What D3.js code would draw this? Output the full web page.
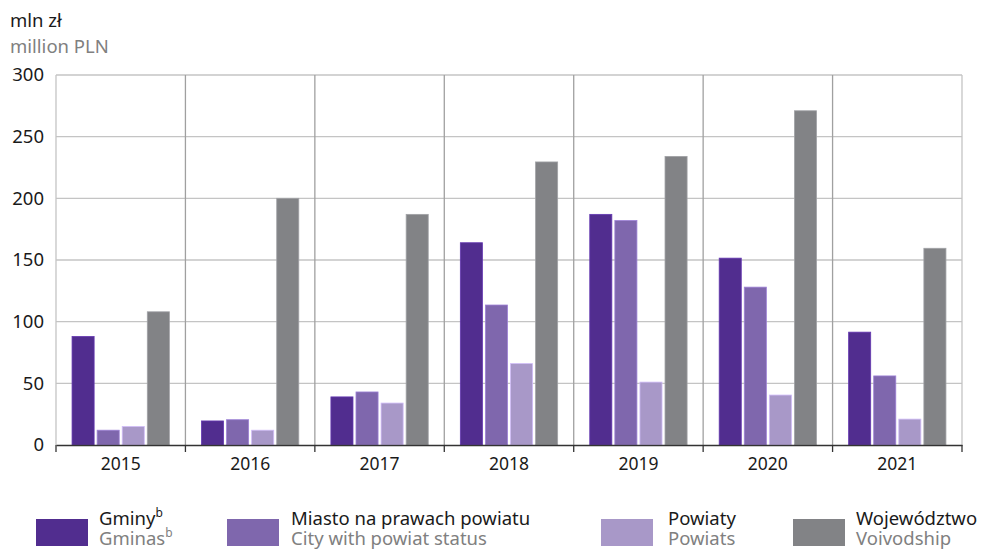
<!DOCTYPE html>
<html><head><meta charset="utf-8">
<script src="https://cdn.jsdelivr.net/npm/d3@7"></script>
<style>body{margin:0;background:#fff}svg{display:block;font-family:"Noto Sans",sans-serif}</style>
</head><body><svg id="c" width="989" height="550"></svg>
<script>
const years = ["2015","2016","2017","2018","2019","2020","2021"];
const seriesKeys = ["gminy","miasto","powiaty","woj"];
const gminy   = [88, 19.5, 39, 164, 187, 151.5, 91.5];
const miasto  = [12, 20.5, 43, 113.5, 182, 128, 56];
const powiaty = [15, 12, 34, 66, 51, 40.5, 21];
const woj     = [108, 200, 187, 229.5, 234, 271, 159.5];
const yTicks = [0,50,100,150,200,250,300];
const legendPL = ["Gminy","Miasto na prawach powiatu","Powiaty","Województwo"];
const legendEN = ["Gminas","City with powiat status","Powiats","Voivodship"];
const legendSup = ["b","","",""];
const colors = ["#512d8f","#7f67ad","#a898c8","#828386"];
const values = [gminy, miasto, powiaty, woj];

const svg = d3.select("#c");
const m = {l:56, r:962, t:75, b:445};
const x = d3.scaleBand().domain(years).range([m.l, m.r]).paddingInner(0).paddingOuter(0);
const xs = d3.scaleBand().domain(seriesKeys).range([0, x.bandwidth()]).paddingInner(0.12).paddingOuter(0.64);
const y = d3.scaleLinear().domain([0,300]).range([m.b, m.t]);

// horizontal gridlines
svg.append("g").selectAll("line").data(yTicks.filter(d=>d>0)).join("line")
  .attr("x1", m.l).attr("x2", m.r).attr("y1", d=>y(d)).attr("y2", d=>y(d))
  .attr("stroke","#c4c4c4").attr("stroke-width",1.3);
// vertical separators
const bounds = years.map(d=>x(d)).concat([m.r]);
svg.append("g").selectAll("line").data(bounds).join("line")
  .attr("x1", d=>d).attr("x2", d=>d).attr("y1", m.t).attr("y2", m.b)
  .attr("stroke", (d,i)=> (i===0||i===bounds.length-1) ? "#c4c4c4" : "#a0a0a0").attr("stroke-width",1.3);

// bars
years.forEach((yr, i) => {
  const g = svg.append("g").attr("transform", `translate(${x(yr)},0)`);
  seriesKeys.forEach((k, j) => {
    const v = values[j][i];
    g.append("rect").attr("x", xs(k)).attr("width", xs.bandwidth())
      .attr("y", y(v)).attr("height", y(0)-y(v))
      .attr("fill", colors[j]).attr("stroke", d3.color(colors[j]).brighter(0.6)).attr("stroke-width",0.8);
  });
});

// y axis labels
const yAxis = d3.axisLeft(y).tickValues(yTicks).tickSize(0).tickPadding(12);
const ya = svg.append("g").attr("transform",`translate(${m.l},0)`).call(yAxis);
ya.select(".domain").remove();
ya.selectAll("text").attr("font-size",18.5).attr("fill","#1a1a1a").attr("font-family","'Noto Sans',sans-serif");

// x axis
const xa = svg.append("g").attr("transform",`translate(0,${m.b})`)
  .call(d3.axisBottom(x).tickSize(0).tickPadding(13));
xa.select(".domain").attr("stroke","#333").attr("stroke-width",1.5);
xa.selectAll("text").attr("font-size",17.5).attr("fill","#1a1a1a").attr("font-family","'Noto Sans',sans-serif");
svg.append("g").selectAll("line").data(bounds).join("line")
  .attr("x1",d=>d).attr("x2",d=>d).attr("y1",m.b).attr("y2",m.b+7)
  .attr("stroke","#333").attr("stroke-width",1.3);

// unit labels
svg.append("text").attr("x",10).attr("y",27).attr("font-size",18.5).attr("fill","#1a1a1a").text("mln zł");
svg.append("text").attr("x",10).attr("y",53).attr("font-size",18.5).attr("fill","#808080").text("million PLN");

// legend
const lx = [36, 227, 601, 793];
const tOff = [63, 64, 67, 63];
legendPL.forEach((t,i)=>{
  svg.append("rect").attr("x",lx[i]).attr("y",519).attr("width",52).attr("height",27).attr("fill",colors[i]);
  const t1 = svg.append("text").attr("x",lx[i]+tOff[i]).attr("y",525).attr("font-size",18.5).attr("fill","#1a1a1a").text(t);
  if (legendSup[i]) t1.append("tspan").attr("dy",-8).attr("font-size",12).text(legendSup[i]);
  const t2 = svg.append("text").attr("x",lx[i]+tOff[i]).attr("y",545).attr("font-size",18.5).attr("fill","#808080").text(legendEN[i]);
  if (legendSup[i]) t2.append("tspan").attr("dy",-8).attr("font-size",12).text(legendSup[i]);
});
</script></body></html>
